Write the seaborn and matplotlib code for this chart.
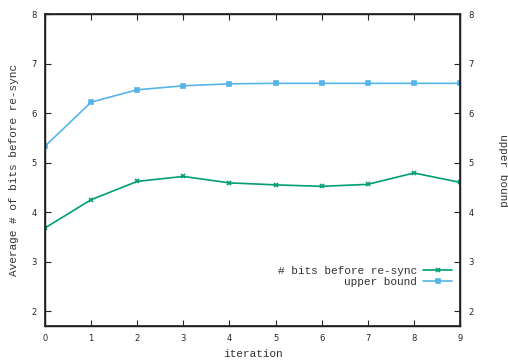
import matplotlib
matplotlib.use("Agg")
import matplotlib.pyplot as plt
import seaborn as sns
import pandas as pd
from matplotlib.lines import Line2D

iterations = [0, 1, 2, 3, 4, 5, 6, 7, 8, 9]
bits_before_resync = [3.68, 4.25, 4.62, 4.72, 4.59, 4.55, 4.52, 4.56, 4.79, 4.60]
upper_bound = [5.33, 6.22, 6.47, 6.55, 6.59, 6.60, 6.60, 6.60, 6.60, 6.60]
series_names = ["# bits before re-sync", "upper bound"]
y_ticks = [2, 3, 4, 5, 6, 7, 8]

sns.set_theme(style="ticks")
plt.rcParams["font.family"] = ["DejaVu Sans"]

fig = plt.figure(figsize=(5.08, 3.62), dpi=100)
ax = fig.add_axes([45/508, 1 - 326/362, 415/508, 312/362])

colors = ["#009e73", "#56b4e9"]
markers = ["x", "s"]
for vals, c, m in zip([bits_before_resync, upper_bound], colors, markers):
    d = pd.DataFrame({"iteration": iterations, "value": vals})
    sns.lineplot(data=d, x="iteration", y="value", color=c, marker=m, ax=ax,
                 linewidth=1.2, markersize=3.5, markeredgewidth=1.2,
                 markeredgecolor=c, legend=False)

ax.set_xlim(0, 9)
ax.set_ylim(1.7, 8)
ax.set_xticks(iterations)
ax.set_yticks(y_ticks)
for sp in ax.spines.values():
    sp.set_linewidth(1.0)
    sp.set_color("black")
ax.tick_params(direction="in", length=4, width=0.8, labelsize=6, top=True, right=False, pad=6)

mono = ["Liberation Mono", "DejaVu Sans Mono"]
ax.set_xlabel("iteration", family=mono, fontsize=8, color="#333333")
ax.xaxis.set_label_coords(0.5, -0.075)
ax.set_ylabel("Average # of bits before re-sync", family=mono, fontsize=8, color="#333333")
ax.yaxis.set_label_coords(-0.062, 0.5)

ax2 = ax.twinx()
ax2.set_ylim(1.7, 8)
ax2.set_yticks(y_ticks)
ax2.tick_params(direction="in", length=4, width=0.8, labelsize=6, pad=6)
ax2.set_ylabel("upper bound", family=mono, fontsize=8, color="#333333", rotation=-90, va="center")
ax2.yaxis.set_label_coords(1.104, 0.5)

handles = [Line2D([], [], color=c, marker=m, linewidth=1.2, markersize=3.5,
                  markeredgewidth=1.2) for c, m in zip(colors, markers)]
leg = ax.legend(handles, series_names, loc="lower right", bbox_to_anchor=(1.0, 0.10),
                frameon=False, markerfirst=False, prop={"family": mono, "size": 8},
                handlelength=2.6, labelspacing=0.1, borderaxespad=0.3, handletextpad=0.6)
for t in leg.get_texts():
    t.set_color("#333333")
    t.set_ha("right")

fig.savefig("out.png", dpi=100)
